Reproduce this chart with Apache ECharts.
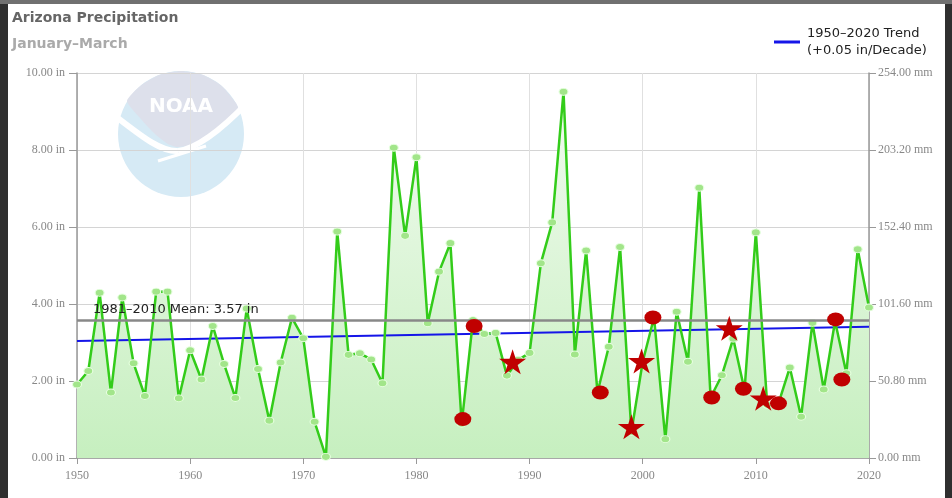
<!DOCTYPE html>
<html>
<head>
<meta charset="utf-8">
<script src="https://cdn.jsdelivr.net/npm/echarts@6/dist/echarts.min.js"></script>
<style>
  html, body { margin: 0; padding: 0; width: 952px; height: 498px; overflow: hidden; background: #2f2f2f; }
  #topband { position: absolute; left: 0; top: 0; width: 952px; height: 4px; background: #707070; }
  #paper { position: absolute; left: 8px; top: 4px; width: 937px; height: 494px; background: #fff; }
  #chart { position: absolute; left: 0; top: 0; width: 952px; height: 498px; }
</style>
</head>
<body>
<div id="topband"></div>
<div id="paper"></div>
<div id="chart"></div>
<script>
// Arizona precipitation, January-March (inches)
const years = [
  1950, 1951, 1952, 1953, 1954, 1955, 1956, 1957, 1958, 1959,
  1960, 1961, 1962, 1963, 1964, 1965, 1966, 1967, 1968, 1969,
  1970, 1971, 1972, 1973, 1974, 1975, 1976, 1977, 1978, 1979,
  1980, 1981, 1982, 1983, 1984, 1985, 1986, 1987, 1988, 1989,
  1990, 1991, 1992, 1993, 1994, 1995, 1996, 1997, 1998, 1999,
  2000, 2001, 2002, 2003, 2004, 2005, 2006, 2007, 2008, 2009,
  2010, 2011, 2012, 2013, 2014, 2015, 2016, 2017, 2018, 2019,
  2020
]
const precip = [
  1.91, 2.26, 4.29, 1.70, 4.17, 2.46, 1.61, 4.32, 4.32, 1.55,
  2.80, 2.04, 3.43, 2.44, 1.56, 3.88, 2.31, 0.97, 2.48, 3.64,
  3.11, 0.94, 0.03, 5.88, 2.68, 2.72, 2.56, 1.94, 8.06, 5.77,
  7.81, 3.50, 4.84, 5.58, 0.89, 3.58, 3.22, 3.25, 2.14, 2.55,
  2.73, 5.06, 6.12, 9.51, 2.69, 5.39, 1.70, 2.89, 5.48, 0.68,
  2.50, 3.65, 0.49, 3.80, 2.50, 7.02, 1.57, 2.15, 3.10, 1.76,
  5.86, 1.38, 1.42, 2.35, 1.07, 3.51, 1.78, 3.55, 2.20, 5.42,
  3.91
]
const meanValue = 3.57
const trendYears = [1950, 2020]
const trendValues = [3.04, 3.41]
// red annotation markers (year, inches)
const circleYears = [1984.1, 1985.1, 1996.25, 2000.9, 2006.1, 2008.9, 2012.0, 2017.05, 2017.6]
const circleValues = [1.01, 3.43, 1.70, 3.65, 1.57, 1.80, 1.42, 3.60, 2.04]
const starYears = [1988.5, 1999.0, 1999.9, 2007.65, 2010.65]
const starValues = [2.50, 0.81, 2.52, 3.37, 1.55]

const trendName = '1950\u20132020 Trend\n(+0.05 in/Decade)'
const starPath = 'path://M50,0 L61,35 L98,35 L68,57 L79,91 L50,70 L21,91 L32,57 L2,35 L39,35 Z'

const pairs = (xs, ys) => xs.map((x, i) => [x, ys[i]])
const seriesData = pairs(years, precip)

const axisFont = { fontFamily: 'Liberation Serif', fontSize: 12, color: '#888' }

const chart = echarts.init(document.getElementById('chart'))

// faded NOAA logo, on its own layer under the grid lines
const logo = [
  { type: 'circle', zlevel: -1, z: 1, shape: { cx: 181, cy: 134, r: 63 }, style: { fill: '#d6eaf5' } },
  {
    type: 'polygon', zlevel: -1, z: 2,
    shape: {
      points: [
        [127, 101], [140, 118], [155, 134], [168, 144], [177, 147], [195, 144],
        [215, 132], [230, 119], [238, 108], [235.6, 102.5], [221.5, 85.7],
        [202.5, 74.8], [181, 71], [159.5, 74.8], [140.5, 85.7]
      ],
      smooth: 0.2
    },
    style: { fill: '#dde0eb' }
  },
  {
    type: 'bezierCurve', zlevel: -1, z: 3,
    shape: { x1: 110, y1: 112, cpx1: 140, cpy1: 135, cpx2: 160, cpy2: 152, x2: 178, y2: 151 },
    style: { fill: 'none', stroke: '#fff', lineWidth: 6 }
  },
  {
    type: 'bezierCurve', zlevel: -1, z: 3,
    shape: { x1: 178, y1: 151, cpx1: 200, cpy1: 148, cpx2: 225, cpy2: 126, x2: 248, y2: 102 },
    style: { fill: 'none', stroke: '#fff', lineWidth: 6 }
  },
  {
    type: 'line', zlevel: -1, z: 3,
    shape: { x1: 158, y1: 161, x2: 206, y2: 146 },
    style: { stroke: '#fff', lineWidth: 3 }
  },
  {
    type: 'text', zlevel: -1, z: 4, x: 181, y: 107,
    style: {
      text: 'NOAA', fill: '#fff', fontSize: 20, fontWeight: 'bold',
      fontFamily: 'Liberation Sans Narrow, DejaVu Sans', align: 'center', verticalAlign: 'middle'
    }
  }
]

const option = {
  animation: false,
  backgroundColor: 'transparent',
  title: {
    text: 'Arizona Precipitation',
    subtext: 'January\u2013March',
    left: 7,
    top: 6,
    itemGap: 12,
    textStyle: { fontFamily: 'DejaVu Sans', fontSize: 14, fontWeight: 'bold', color: '#666' },
    subtextStyle: { fontFamily: 'DejaVu Sans', fontSize: 14, fontWeight: 'bold', color: '#aaa' }
  },
  legend: {
    data: [trendName],
    left: 769,
    top: 20,
    icon: 'rect',
    itemWidth: 26,
    itemHeight: 3,
    itemGap: 8,
    selectedMode: false,
    textStyle: { fontFamily: 'DejaVu Sans', fontSize: 13, color: '#222', lineHeight: 17, padding: [0, 0, 0, 2] }
  },
  grid: { left: 77, right: 83, top: 73, bottom: 40 },
  graphic: logo,
  xAxis: {
    type: 'value',
    min: 1950,
    max: 2020,
    interval: 10,
    axisLine: { show: true, lineStyle: { color: '#999', width: 1.5 } },
    axisTick: { show: true, length: 6, lineStyle: { color: '#999' } },
    axisLabel: Object.assign({ margin: 12, formatter: v => String(v) }, axisFont),
    splitLine: { show: true, lineStyle: { color: '#e0e0e0' } }
  },
  yAxis: [
    {
      type: 'value',
      position: 'left',
      min: 0,
      max: 10,
      interval: 2,
      axisLine: { show: true, lineStyle: { color: '#999', width: 1.5 } },
      axisTick: { show: true, length: 8, lineStyle: { color: '#999' } },
      axisLabel: Object.assign({ margin: 12, formatter: v => v.toFixed(2) + ' in' }, axisFont),
      splitLine: { show: true, lineStyle: { color: '#d4d4d4' } }
    },
    {
      type: 'value',
      position: 'right',
      min: 0,
      max: 254,
      interval: 50.8,
      axisLine: { show: true, lineStyle: { color: '#999', width: 1.5 } },
      axisTick: { show: true, length: 7, lineStyle: { color: '#999' } },
      axisLabel: Object.assign({ margin: 9, formatter: v => v.toFixed(2) + ' mm' }, axisFont),
      splitLine: { show: false }
    }
  ],
  series: [
    {
      name: 'area',
      type: 'line',
      z: 1,
      data: seriesData,
      showSymbol: false,
      symbol: 'none',
      silent: true,
      lineStyle: { width: 0, opacity: 0 },
      areaStyle: {
        opacity: 1,
        color: new echarts.graphic.LinearGradient(0, 0, 0, 1, [
          { offset: 0, color: '#f2fbf0' },
          { offset: 1, color: '#c6efbf' }
        ])
      },
      markLine: {
        silent: true,
        symbol: ['none', 'none'],
        lineStyle: { color: '#888', width: 2.5, type: 'solid' },
        label: {
          show: true,
          position: 'insideStartTop',
          distance: [16, 4],
          formatter: '1981\u20132010 Mean: ' + meanValue.toFixed(2) + ' in',
          fontFamily: 'DejaVu Sans',
          fontSize: 13,
          color: '#222'
        },
        data: [{ yAxis: meanValue }]
      }
    },
    {
      name: trendName,
      type: 'line',
      z: 2,
      data: pairs(trendYears, trendValues),
      symbol: 'none',
      silent: true,
      lineStyle: { color: '#1515e8', width: 2 },
      itemStyle: { color: '#1515e8' }
    },
    {
      name: 'Precipitation',
      type: 'line',
      z: 3,
      data: seriesData,
      symbol: 'circle',
      symbolSize: [9, 7],
      lineStyle: { color: '#33cc1a', width: 2.5 },
      itemStyle: { color: '#a2e58a', borderColor: '#e8ffe2', borderWidth: 1 }
    },
    {
      name: 'circles',
      type: 'scatter',
      z: 5,
      data: pairs(circleYears, circleValues),
      symbol: 'circle',
      symbolSize: [17, 14],
      itemStyle: { color: '#c00000', opacity: 1 }
    },
    {
      name: 'stars',
      type: 'scatter',
      z: 5,
      data: pairs(starYears, starValues),
      symbol: starPath,
      symbolSize: [27, 25],
      itemStyle: { color: '#c00000', opacity: 1 }
    }
  ]
}

chart.setOption(option)
</script>
</body>
</html>
